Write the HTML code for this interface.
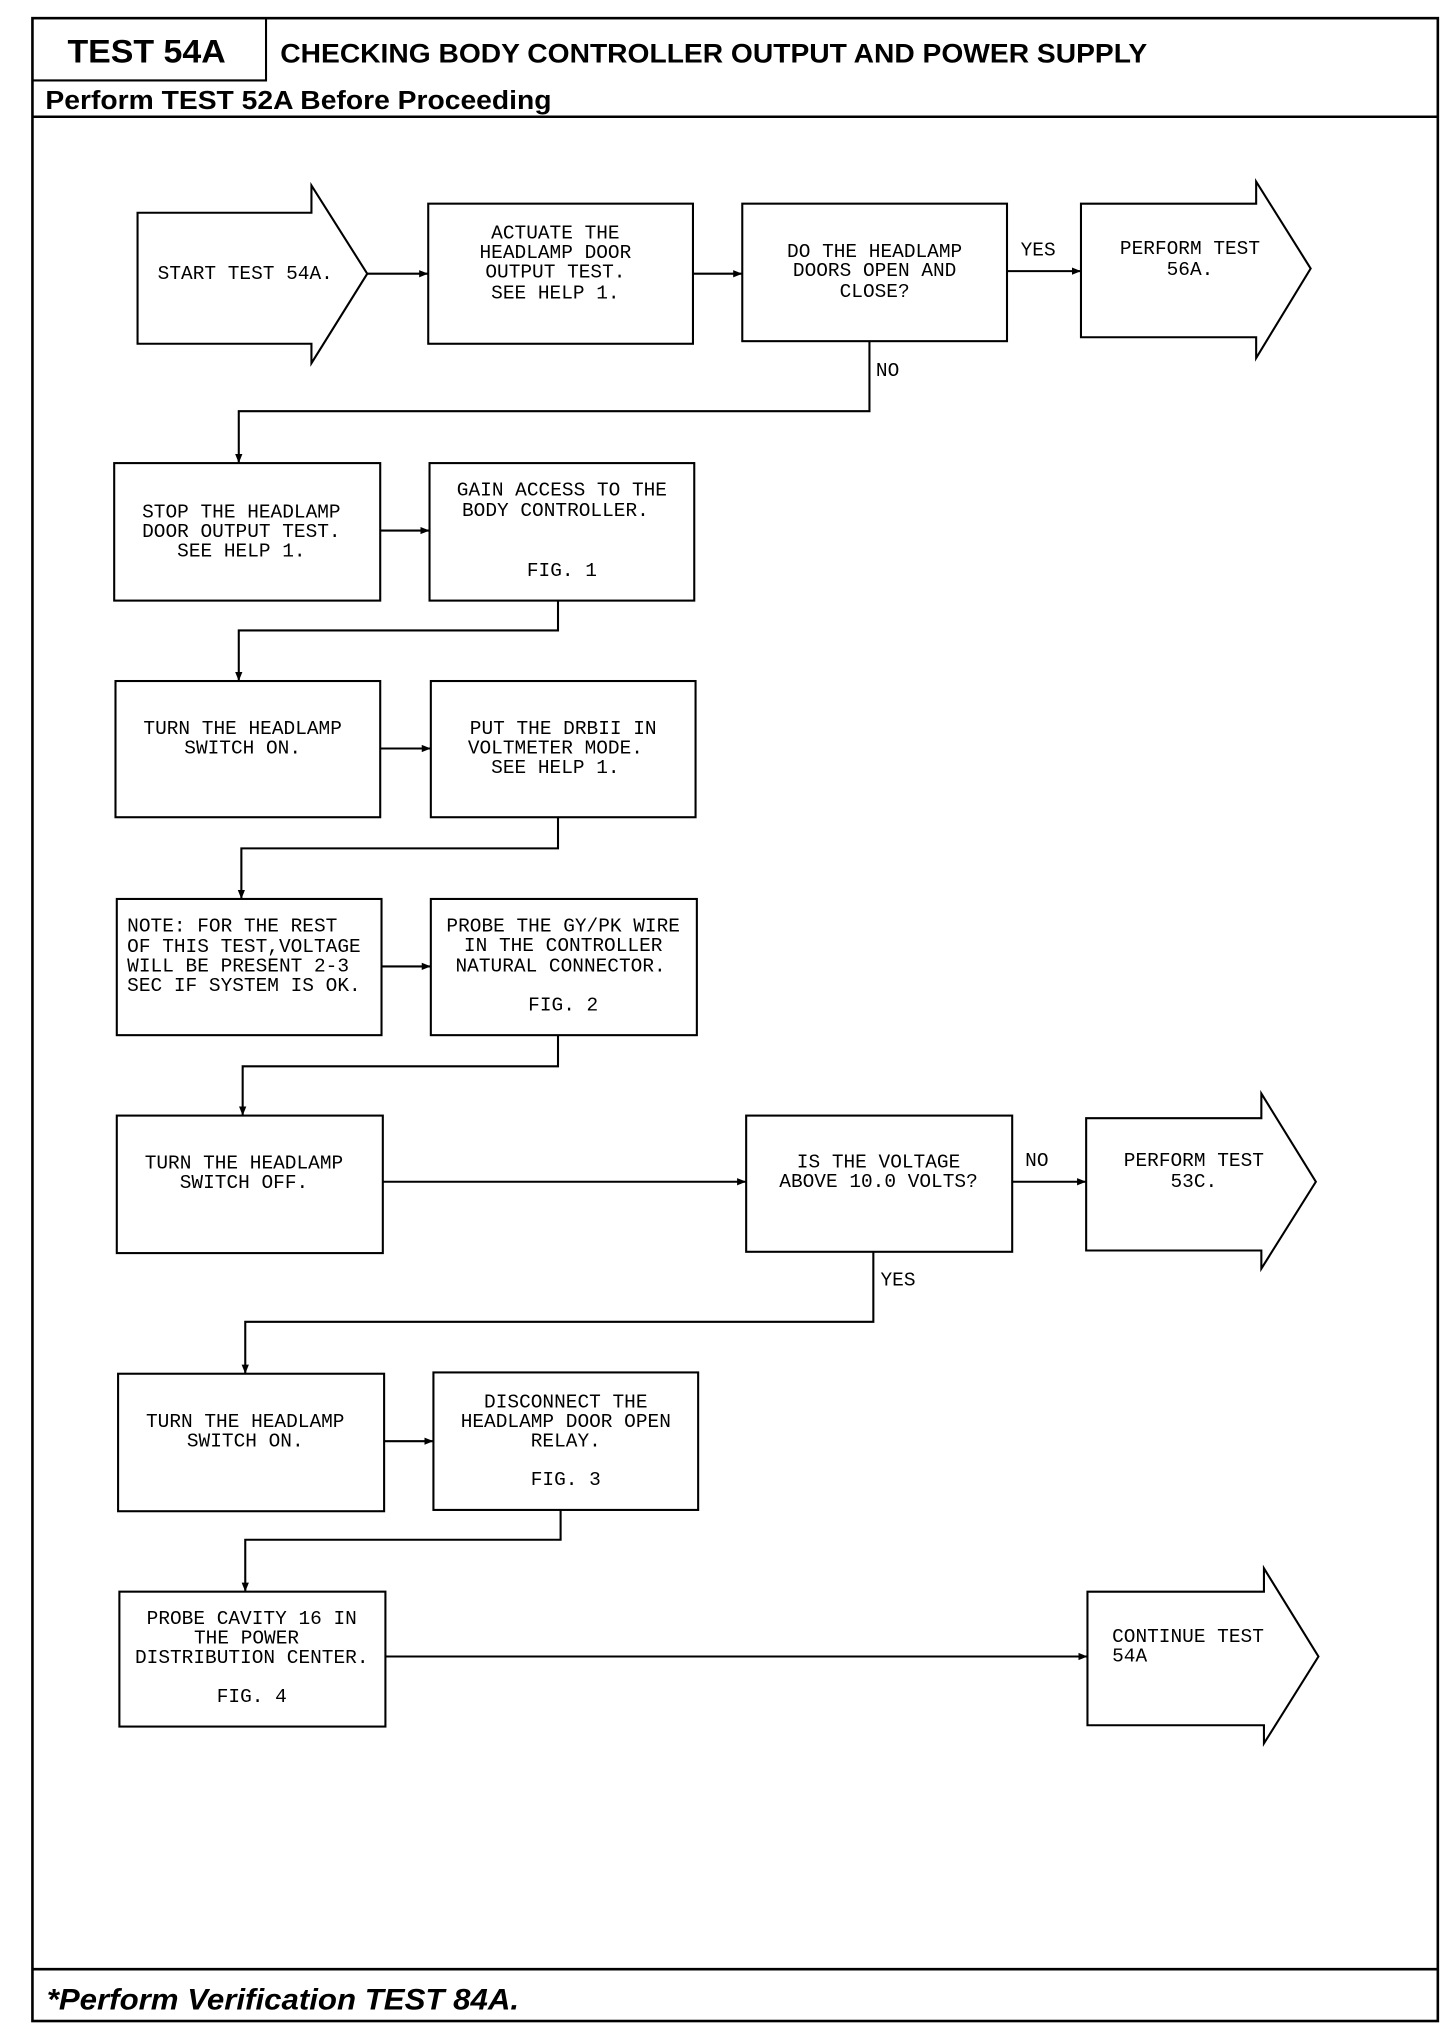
<!DOCTYPE html>
<html><head><meta charset="utf-8"><style>html,body{margin:0;padding:0;background:#fff}svg{display:block}</style></head>
<body>
<svg width="1456" height="2034" viewBox="0 0 1122 1568" preserveAspectRatio="none" xmlns="http://www.w3.org/2000/svg">
<defs><marker id="a" viewBox="0 0 10 10" refX="10" refY="5" markerWidth="7" markerHeight="7" orient="auto" markerUnits="userSpaceOnUse"><path d="M0,1 L10,5 L0,9 z" fill="#000"/></marker></defs>
<g fill="none" stroke="#000" stroke-width="1.6">
<rect x="25" y="14" width="1083" height="1544" stroke-width="2"/>
<polyline points="25,62 205,62 205,14"/>
<line x1="25" y1="90" x2="1108" y2="90" stroke-width="2"/>
<line x1="25" y1="1518" x2="1108" y2="1518" stroke-width="2"/>
<path d="M106,164 H240 V143 L283,211 L240,280 V265 H106 Z"/>
<rect x="330" y="157" width="204" height="108"/>
<rect x="572" y="157" width="204" height="106"/>
<path d="M833,157 H968 V140 L1010,207 L968,276 V260 H833 Z"/>
<line x1="283" y1="211" x2="330" y2="211" marker-end="url(#a)"/>
<line x1="534" y1="211" x2="572" y2="211" marker-end="url(#a)"/>
<line x1="776" y1="209" x2="833" y2="209" marker-end="url(#a)"/>
<polyline points="670,263 670,317 184,317 184,357" marker-end="url(#a)"/>
<rect x="88" y="357" width="205" height="106"/>
<rect x="331" y="357" width="204" height="106"/>
<line x1="293" y1="409" x2="331" y2="409" marker-end="url(#a)"/>
<polyline points="430,463 430,486 184,486 184,525" marker-end="url(#a)"/>
<rect x="89" y="525" width="204" height="105"/>
<rect x="332" y="525" width="204" height="105"/>
<line x1="293" y1="577" x2="332" y2="577" marker-end="url(#a)"/>
<polyline points="430,630 430,654 186,654 186,693" marker-end="url(#a)"/>
<rect x="90" y="693" width="204" height="105"/>
<rect x="332" y="693" width="205" height="105"/>
<line x1="294" y1="745" x2="332" y2="745" marker-end="url(#a)"/>
<polyline points="430,798 430,822 187,822 187,860" marker-end="url(#a)"/>
<rect x="90" y="860" width="205" height="106"/>
<rect x="575" y="860" width="205" height="105"/>
<path d="M837,862 H972 V843 L1014,911 L972,978 V964 H837 Z"/>
<line x1="295" y1="911" x2="575" y2="911" marker-end="url(#a)"/>
<line x1="780" y1="911" x2="837" y2="911" marker-end="url(#a)"/>
<polyline points="673,965 673,1019 189,1019 189,1059" marker-end="url(#a)"/>
<rect x="91" y="1059" width="205" height="106"/>
<rect x="334" y="1058" width="204" height="106"/>
<line x1="296" y1="1111" x2="334" y2="1111" marker-end="url(#a)"/>
<polyline points="432,1164 432,1187 189,1187 189,1227" marker-end="url(#a)"/>
<rect x="92" y="1227" width="205" height="104"/>
<path d="M838,1227 H974 V1209 L1016,1277 L974,1344 V1330 H838 Z"/>
<line x1="297" y1="1277" x2="838" y2="1277" marker-end="url(#a)"/>
</g>
<g font-family="Liberation Sans, sans-serif" font-weight="bold" fill="#000">
<text x="52" y="48" font-size="25" textLength="122" lengthAdjust="spacingAndGlyphs">TEST 54A</text>
<text x="216" y="48" font-size="21" textLength="668" lengthAdjust="spacingAndGlyphs">CHECKING BODY CONTROLLER OUTPUT AND POWER SUPPLY</text>
<text x="35" y="84" font-size="20" textLength="390" lengthAdjust="spacingAndGlyphs">Perform TEST 52A Before Proceeding</text>
<text x="36" y="1549" font-size="23" font-style="italic" textLength="364" lengthAdjust="spacingAndGlyphs">*Perform Verification TEST 84A.</text>
</g>
<g font-family="Liberation Mono, monospace" font-size="15" fill="#000" text-anchor="middle" dominant-baseline="middle">
<text x="189" y="211">START TEST 54A.</text>
<text x="428" y="180">ACTUATE THE</text><text x="428" y="195">HEADLAMP DOOR</text><text x="428" y="210">OUTPUT TEST.</text><text x="428" y="226">SEE HELP 1.</text>
<text x="674" y="194">DO THE HEADLAMP</text><text x="674" y="209">DOORS OPEN AND</text><text x="674" y="225">CLOSE?</text>
<text x="800" y="193">YES</text>
<text x="917" y="192">PERFORM TEST</text><text x="917" y="208">56A.</text>
<text x="684" y="286">NO</text>
<text x="186" y="395">STOP THE HEADLAMP</text><text x="186" y="410">DOOR OUTPUT TEST.</text><text x="186" y="425">SEE HELP 1.</text>
<text x="433" y="378">GAIN ACCESS TO THE</text><text x="428" y="394">BODY CONTROLLER.</text><text x="433" y="440">FIG. 1</text>
<text x="187" y="562">TURN THE HEADLAMP</text><text x="187" y="577">SWITCH ON.</text>
<text x="434" y="562">PUT THE DRBII IN</text><text x="428" y="577">VOLTMETER MODE.</text><text x="428" y="592">SEE HELP 1.</text>
<text x="434" y="714">PROBE THE GY/PK WIRE</text><text x="434" y="729">IN THE CONTROLLER</text><text x="432" y="745">NATURAL CONNECTOR.</text><text x="434" y="775">FIG. 2</text>
<text x="188" y="897">TURN THE HEADLAMP</text><text x="188" y="912">SWITCH OFF.</text>
<text x="677" y="896">IS THE VOLTAGE</text><text x="677" y="911">ABOVE 10.0 VOLTS?</text>
<text x="799" y="895">NO</text>
<text x="920" y="895">PERFORM TEST</text><text x="920" y="911">53C.</text>
<text x="692" y="987">YES</text>
<text x="189" y="1096">TURN THE HEADLAMP</text><text x="189" y="1111">SWITCH ON.</text>
<text x="436" y="1081">DISCONNECT THE</text><text x="436" y="1096">HEADLAMP DOOR OPEN</text><text x="436" y="1111">RELAY.</text><text x="436" y="1141">FIG. 3</text>
<text x="194" y="1248">PROBE CAVITY 16 IN</text><text x="190" y="1263">THE POWER</text><text x="194" y="1278">DISTRIBUTION CENTER.</text><text x="194" y="1308">FIG. 4</text>
</g>
<g font-family="Liberation Mono, monospace" font-size="15" fill="#000" dominant-baseline="middle">
<text x="98" y="714">NOTE:  FOR THE REST</text><text x="98" y="730">OF THIS TEST,VOLTAGE</text><text x="98" y="745">WILL BE PRESENT 2-3</text><text x="98" y="760">SEC IF SYSTEM IS OK.</text>
<text x="857" y="1262">CONTINUE TEST</text><text x="857" y="1277">54A</text>
</g>
</svg>
</body></html>
